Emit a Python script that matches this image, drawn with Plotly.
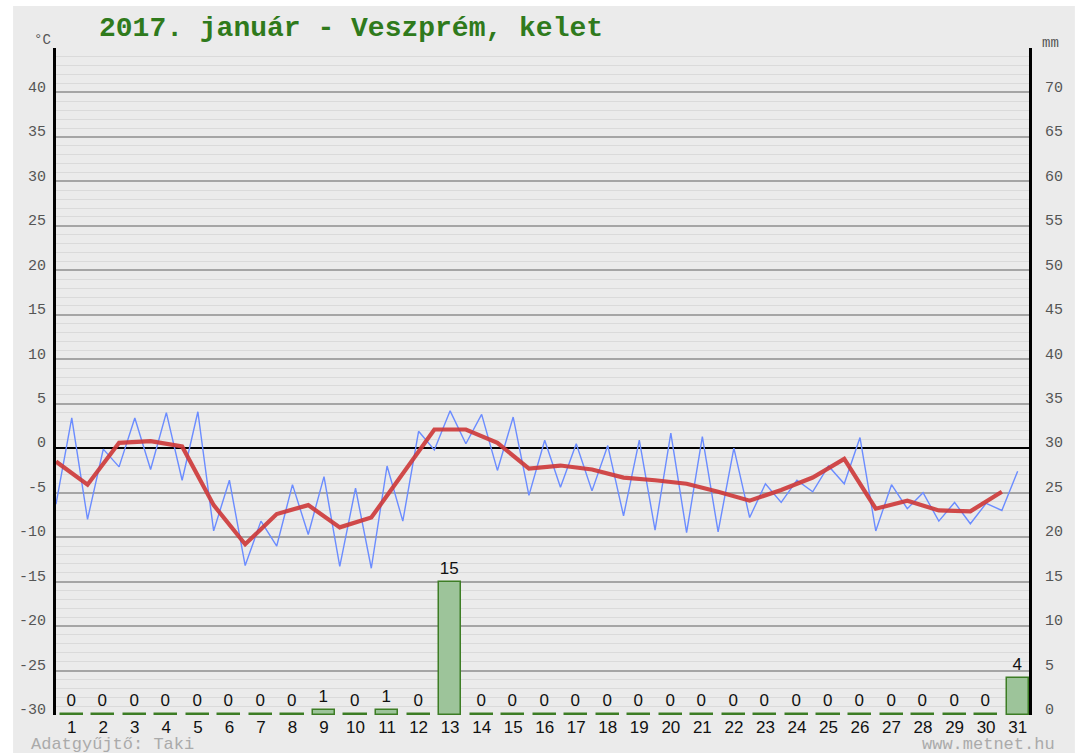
import plotly.graph_objects as go

# ---------------- data ----------------
days = list(range(1, 32))
# blue line: two readings per day (night low at day-0.5, daytime high at day)
temp_half_pos = [0.5 + 0.5 * j for j in range(62)]
temp_half = [-6.3, 3.4, -8.0, -0.1, -2.1, 3.4, -2.4, 4.0, -3.6, 4.1,
             -9.3, -3.6, -13.2, -8.2, -11.0, -4.1, -9.7, -3.2, -13.3, -4.5,
             -13.5, -2.0, -8.2, 1.9, -0.2, 4.2, 0.5, 3.8, -2.5, 3.5,
             -5.3, 0.9, -4.4, 0.5, -4.8, 0.3, -7.6, 0.9, -9.2, 1.7,
             -9.5, 1.3, -9.4, 0.0, -7.8, -4.0, -6.1, -3.6, -4.9, -2.0,
             -4.0, 1.2, -9.3, -4.1, -6.8, -5.0, -8.2, -6.1, -8.5, -6.2,
             -7.0, -2.6]
# red line: daily mean
mean_pos = [d - 0.5 for d in days]
temp_mean = [-1.5, -4.1, 0.6, 0.8, 0.2, -6.4, -10.8, -7.4, -6.4, -8.9,
             -7.8, -2.8, 2.1, 2.1, 0.6, -2.3, -1.95, -2.4, -3.3, -3.6,
             -4.0, -4.9, -5.9, -4.7, -3.3, -1.2, -6.8, -5.9, -7.0, -7.1,
             -4.9]
# precipitation (mm)
precip = [0, 0, 0, 0, 0, 0, 0, 0, 0.6, 0,
          0.6, 0, 14.9, 0, 0, 0, 0, 0, 0, 0,
          0, 0, 0, 0, 0, 0, 0, 0, 0, 0,
          4.2]
precip_labels = [str(int(round(v))) for v in precip]

temp_ticks = list(range(-30, 46, 5))
temp_tick_text = [str(v) if v < 45 else "" for v in temp_ticks]
mm_ticks = list(range(0, 76, 5))
mm_tick_text = [str(v) if v < 75 else "" for v in mm_ticks]

TITLE = "2017. január - Veszprém, kelet"

# ---------------- style ----------------
BG = "#ebebeb"
MONO = "Courier New, Liberation Mono, monospace"
SANS = "Liberation Sans, Arial, sans-serif"

W, H = 1075, 753
L, R, T, B = 56, 44, 48, 38
pw, ph = W - L - R, H - T - B


def px(x):
    return (x - L) / pw


def py(y):
    return (H - B - y) / ph


fig = go.Figure()

# precipitation bars (right axis)
bar_display = [max(v, 0.15) for v in precip]
fig.add_trace(go.Bar(
    x=days, y=bar_display, yaxis="y2", width=0.7,
    marker=dict(color="#9dc49a", line=dict(color="#3d7d25", width=1.5)),
    text=precip_labels, textposition="outside", cliponaxis=False,
    textfont=dict(family=SANS, size=17, color="#111"),
    hoverinfo="skip", showlegend=False,
))

# blue half-day line
fig.add_trace(go.Scatter(
    x=temp_half_pos, y=temp_half, mode="lines",
    line=dict(color="#6b8cff", width=1.4), showlegend=False,
))
# red daily mean
fig.add_trace(go.Scatter(
    x=mean_pos, y=temp_mean, mode="lines",
    line=dict(color="rgba(205,55,55,0.9)", width=4.2), showlegend=False,
))

fig.update_layout(
    width=W, height=H,
    margin=dict(l=L, r=R, t=T, b=B, pad=0),
    paper_bgcolor="white",
    plot_bgcolor=BG,
    bargap=0,
    xaxis=dict(
        range=[0.5, 31.36], tickmode="array", tickvals=days,
        ticktext=[str(d) for d in days], showgrid=False, zeroline=False,
        showline=False, ticks="",
        tickfont=dict(family=SANS, size=17, color="#111"),
    ),
    yaxis=dict(
        range=[-30, 45], tickmode="array", tickvals=temp_ticks,
        ticktext=temp_tick_text, showgrid=True, gridcolor="#a5a5a5",
        gridwidth=1.5, zeroline=True, zerolinecolor="#000",
        zerolinewidth=2, showline=True, linecolor="#000", linewidth=3,
        ticks="", ticklabelshift=-6, ticklabelstandoff=4,
        tickfont=dict(family=MONO, size=15, color="#555"),
        minor=dict(dtick=1, showgrid=True, gridcolor="#dadada", gridwidth=1.3),
    ),
    yaxis2=dict(
        range=[0, 75], overlaying="y", side="right", tickmode="array",
        tickvals=mm_ticks, ticktext=mm_tick_text, showgrid=False,
        zeroline=False, showline=True, linecolor="#000", linewidth=3,
        ticks="", ticklabelshift=-6, ticklabelstandoff=10,
        tickfont=dict(family=MONO, size=15, color="#555"),
    ),
    shapes=[dict(
        type="rect", xref="paper", yref="paper", layer="below",
        x0=px(13), x1=px(W + 2), y0=py(H + 2), y1=py(6),
        fillcolor=BG, line=dict(width=0),
    )],
    annotations=[
        dict(text=TITLE, xref="paper", yref="paper", x=px(97), y=py(28),
             xanchor="left", yanchor="middle", showarrow=False,
             font=dict(family=MONO, size=28, color="#2f7a1c", weight="bold")),
        dict(text="°C", xref="paper", yref="paper", x=px(42), y=py(40),
             xanchor="center", yanchor="middle", showarrow=False,
             font=dict(family=MONO, size=14, color="#555")),
        dict(text="mm", xref="paper", yref="paper", x=px(1053), y=py(43),
             xanchor="center", yanchor="middle", showarrow=False,
             font=dict(family=MONO, size=14, color="#555")),
        dict(text="Adatgyűjtő: Taki", xref="paper", yref="paper", x=px(29),
             y=py(744), xanchor="left", yanchor="middle", showarrow=False,
             font=dict(family=MONO, size=17, color="#aaaaaa")),
        dict(text="www.metnet.hu", xref="paper", yref="paper", x=px(1059),
             y=py(744), xanchor="right", yanchor="middle", showarrow=False,
             font=dict(family=MONO, size=17, color="#aaaaaa")),
    ],
)

fig.write_html("out.html",
               config={"displayModeBar": False},
               post_script="document.body.style.margin='0';"
                           "document.body.style.overflow='hidden';")
